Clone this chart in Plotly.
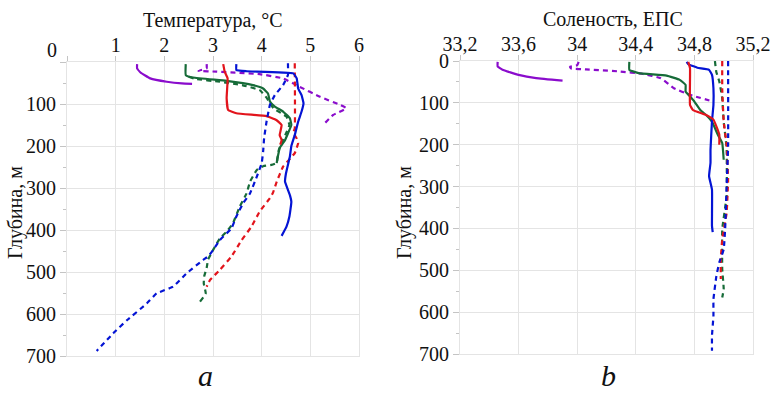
import plotly.graph_objects as go

# ---------------- data ----------------
# Temperature profiles (°C) vs depth (m)
temp_purple_solid_T = [1.44, 1.44, 1.51, 1.71, 2.05, 2.36, 2.57]
temp_purple_solid_D = [5, 15, 25, 39, 47, 51, 52]
temp_purple_dash_T = [2.87, 2.87, 2.7, 3.07, 3.96, 4.44, 4.78, 5.2, 5.61, 5.74, 5.47, 5.26]
temp_purple_dash_D = [5, 15, 21, 23, 29, 39, 59, 83, 102, 110, 126, 150]
temp_green_solid_T = [2.44, 2.44, 2.59, 3.28, 3.82, 4.03, 4.13, 4.17, 4.27, 4.44, 4.58, 4.61, 4.54, 4.48, 4.37, 4.34, 4.32, 4.31]
temp_green_solid_D = [5, 31, 37, 45, 55, 63, 75, 94, 106, 118, 134, 150, 170, 186, 205, 221, 230, 241]
temp_green_dash_T = [2.5, 2.62, 3.14, 3.6, 3.96, 4.1, 4.24, 4.51, 4.57, 4.5, 4.42, 4.35, 4.31, 4.2, 4.03, 3.9, 3.76, 3.69, 3.55, 3.41, 3.28, 3.14, 3.0, 2.9, 2.87, 2.82, 2.81, 2.85, 2.73]
temp_green_dash_D = [35, 40, 47, 55, 67, 85, 110, 130, 150, 170, 190, 210, 240, 245, 248, 257, 285, 313, 344, 384, 404, 420, 448, 470, 490, 510, 527, 551, 571]
temp_red_solid_T = [3.21, 3.24, 3.3, 3.28, 3.31, 3.48, 4.1, 4.3, 4.41, 4.37, 4.41, 4.38]
temp_red_solid_D = [5, 23, 39, 86, 114, 122, 129, 138, 150, 174, 186, 197]
temp_red_dash_T = [4.68, 4.68, 4.65, 4.72, 4.75, 4.68, 4.44, 4.31, 4.23, 4.17, 3.96, 3.79, 3.59, 3.38, 3.14, 2.94, 2.87]
temp_red_dash_D = [3, 158, 168, 182, 193, 217, 249, 285, 312, 324, 356, 392, 424, 463, 495, 519, 535]
temp_blue_solid_T = [3.48, 3.48, 3.69, 4.65, 4.72, 4.75, 4.82, 4.86, 4.82, 4.75, 4.68, 4.61, 4.58, 4.5, 4.48, 4.58, 4.61, 4.57, 4.51, 4.41]
temp_blue_solid_D = [5, 19, 22, 27, 39, 63, 79, 98, 118, 142, 174, 200, 225, 265, 285, 317, 333, 368, 392, 414]
temp_blue_dash_T = [4.54, 4.54, 4.44, 4.27, 4.17, 4.1, 4.05, 4.03, 4.0, 3.9, 3.76, 3.62, 3.48, 3.38, 3.14, 3.0, 2.9, 2.8, 2.46, 2.18, 1.84, 1.64, 1.23, 0.95, 0.61]
temp_blue_dash_D = [3, 31, 55, 79, 102, 142, 182, 213, 241, 273, 313, 336, 368, 396, 424, 448, 463, 471, 503, 535, 551, 575, 615, 646, 688]

# Salinity profiles (PSU) vs depth (m)
sal_purple_solid_S = [33.457, 33.457, 33.49, 33.6, 33.72, 33.9]
sal_purple_solid_D = [2, 13, 21, 33, 41, 47]
sal_purple_dash_S = [34.01, 34.0, 33.95, 33.96, 34.06, 34.29, 34.45, 34.57, 34.66, 34.77, 34.93]
sal_purple_dash_D = [2, 10, 14, 18, 20, 25, 31, 41, 65, 81, 97]
sal_green_solid_S = [34.356, 34.356, 34.42, 34.61, 34.7, 34.74, 34.74, 34.77, 34.8, 34.84, 34.88, 34.92, 34.96, 34.99, 35.0]
sal_green_solid_D = [2, 21, 29, 35, 45, 57, 73, 85, 97, 117, 129, 145, 176, 196, 236]
sal_green_dash_S = [34.94, 34.95, 34.97, 34.99, 35.0, 35.02, 35.02, 34.99, 34.99, 35.0, 34.99]
sal_green_dash_D = [0, 27, 49, 89, 145, 208, 323, 402, 497, 545, 565]
sal_red_solid_S = [34.758, 34.77, 34.77, 34.79, 34.88, 34.93, 34.95, 34.97, 34.97]
sal_red_solid_D = [2, 17, 105, 117, 129, 140, 156, 176, 200]
sal_red_dash_S = [34.99, 34.99, 35.0, 35.02, 35.03, 35.02, 34.99, 34.98, 34.98]
sal_red_dash_D = [0, 67, 145, 200, 283, 363, 426, 474, 521]
sal_blue_solid_S = [34.747, 34.76, 34.82, 34.9, 34.92, 34.93, 34.93, 34.92, 34.91, 34.91, 34.9, 34.92, 34.92, 34.925]
sal_blue_solid_D = [2, 8, 16, 21, 33, 65, 105, 144, 212, 243, 275, 307, 394, 409]
sal_blue_dash_S = [35.03, 35.03, 35.02, 35.01, 35.0, 34.97, 34.95, 34.93, 34.93, 34.92, 34.92]
sal_blue_dash_D = [0, 204, 300, 400, 450, 481, 514, 569, 609, 656, 692]

# axis ticks
temp_ticks = [0, 1, 2, 3, 4, 5, 6]
temp_ticktext = ["", "1", "2", "3", "4", "5", "6"]
sal_ticks = [33.2, 33.6, 34.0, 34.4, 34.8, 35.2]
sal_ticktext = ["33,2", "33,6", "34", "34,4", "34,8", "35,2"]
depth_ticks = [0, 100, 200, 300, 400, 500, 600, 700]
depth_ticktext_left = ["", "100", "200", "300", "400", "500", "600", "700"]
depth_ticktext_right = ["0", "100", "200", "300", "400", "500", "600", "700"]

# ---------------- style ----------------
PURPLE = "#8a0ccc"
GREEN = "#166b38"
RED = "#e2141c"
BLUE = "#0414d4"
DASH = "5px,4px"
W = 2.2
FONT = "Liberation Serif, Times New Roman, serif"
W_PX, H_PX = 772, 396

def px(x):
    return x / W_PX

def py(y):
    return 1 - y / H_PX

fig = go.Figure()

temp_series = [
    (temp_purple_solid_T, temp_purple_solid_D, PURPLE, "solid"),
    (temp_purple_dash_T, temp_purple_dash_D, PURPLE, DASH),
    (temp_green_dash_T, temp_green_dash_D, GREEN, DASH),
    (temp_green_solid_T, temp_green_solid_D, GREEN, "solid"),
    (temp_red_dash_T, temp_red_dash_D, RED, DASH),
    (temp_red_solid_T, temp_red_solid_D, RED, "solid"),
    (temp_blue_dash_T, temp_blue_dash_D, BLUE, DASH),
    (temp_blue_solid_T, temp_blue_solid_D, BLUE, "solid"),
]
for xs, ys, c, d in temp_series:
    fig.add_trace(go.Scatter(x=xs, y=ys, mode="lines", xaxis="x", yaxis="y",
                             line=dict(color=c, width=W, dash=d, shape="spline", smoothing=0.3),
                             showlegend=False, hoverinfo="skip"))

sal_series = [
    (sal_purple_solid_S, sal_purple_solid_D, PURPLE, "solid"),
    (sal_purple_dash_S, sal_purple_dash_D, PURPLE, DASH),
    (sal_green_dash_S, sal_green_dash_D, GREEN, DASH),
    (sal_red_dash_S, sal_red_dash_D, RED, DASH),
    (sal_blue_dash_S, sal_blue_dash_D, BLUE, DASH),
    (sal_green_solid_S, sal_green_solid_D, GREEN, "solid"),
    (sal_blue_solid_S, sal_blue_solid_D, BLUE, "solid"),
    (sal_red_solid_S, sal_red_solid_D, RED, "solid"),
]
for xs, ys, c, d in sal_series:
    fig.add_trace(go.Scatter(x=xs, y=ys, mode="lines", xaxis="x2", yaxis="y2",
                             line=dict(color=c, width=W, dash=d, shape="spline", smoothing=0.3),
                             showlegend=False, hoverinfo="skip"))

GRID = "#e4e4e4"
TICKC = "#c4c4c4"
tickfont = dict(family=FONT, size=20, color="#111111")

common_x = dict(side="top", showgrid=True, gridcolor=GRID, gridwidth=1, zeroline=False,
                showline=True, linecolor=GRID, mirror=True, ticks="outside", ticklen=5,
                tickcolor=TICKC, tickfont=tickfont, tickmode="array", automargin=False,
                ticklabelstandoff=-4)
common_y = dict(showgrid=True, gridcolor=GRID, gridwidth=1, zeroline=False,
                showline=True, linecolor=GRID, mirror=True, ticks="outside", ticklen=6,
                tickcolor=TICKC, tickfont=tickfont, tickmode="array", automargin=False,
                minor=dict(tickmode="linear", tick0=0, dtick=50, ticks="outside", ticklen=3,
                           tickcolor=TICKC, showgrid=False))

fig.update_layout(
    template="none",
    width=W_PX, height=H_PX,
    margin=dict(l=0, r=0, t=0, b=0, pad=0),
    paper_bgcolor="white", plot_bgcolor="white",
    xaxis=dict(common_x, domain=[px(67), px(359)], range=[0, 6], anchor="y",
               tickvals=temp_ticks, ticktext=temp_ticktext),
    yaxis=dict(common_y, domain=[py(356), py(62)], range=[700, 0], anchor="x",
               tickvals=depth_ticks, ticktext=depth_ticktext_left),
    xaxis2=dict(common_x, domain=[px(460), px(753)], range=[33.2, 35.2], anchor="y2",
                tickvals=sal_ticks, ticktext=sal_ticktext),
    yaxis2=dict(common_y, domain=[py(354), py(61)], range=[700, 0], anchor="x2",
                tickvals=depth_ticks, ticktext=depth_ticktext_right),
)

ann_font = dict(family=FONT, size=20, color="#111111")
annotations = [
    dict(text="Температура, °C", x=px(213), y=py(21), font=ann_font),
    dict(text="Соленость, ЕПС", x=px(613), y=py(19), font=ann_font),
    dict(text="Глубина, м", x=px(15), y=py(213), font=ann_font, textangle=-90),
    dict(text="Глубина, м", x=px(404), y=py(213), font=ann_font, textangle=-90),
    dict(text="0", x=px(52), y=py(50), font=ann_font),
    dict(text="<i>a</i>", x=px(205), y=py(375), font=dict(family=FONT, size=30, color="#111111")),
    dict(text="<i>b</i>", x=px(608), y=py(375), font=dict(family=FONT, size=30, color="#111111")),
]
for a in annotations:
    a.update(xref="paper", yref="paper", showarrow=False, xanchor="center", yanchor="middle")
fig.update_layout(annotations=annotations)

fig.write_html("out.html",
               config={"displayModeBar": False},
               post_script="document.body.style.margin='0px';document.body.style.overflow='hidden';")
